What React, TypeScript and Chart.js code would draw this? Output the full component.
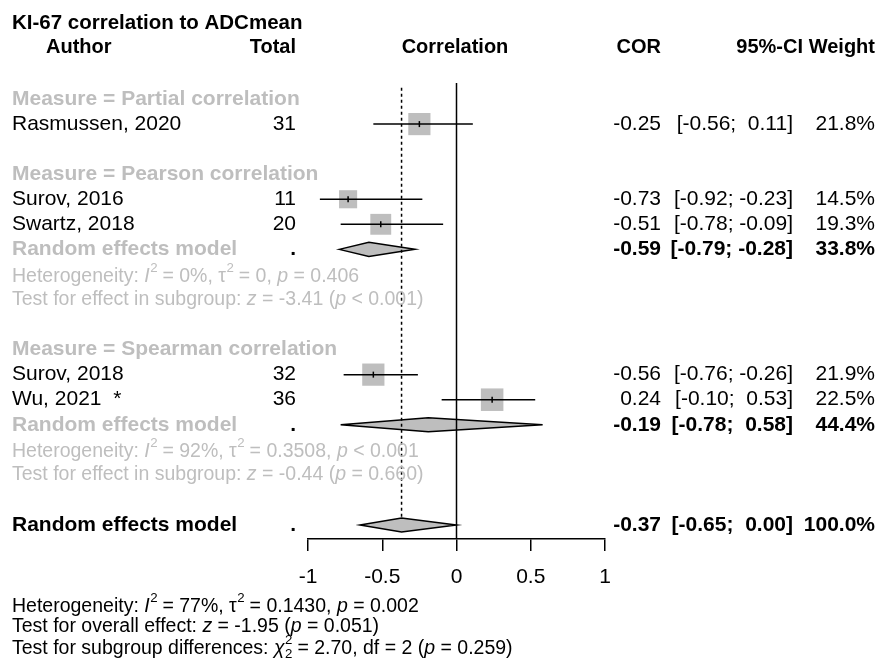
import React, { useEffect, useRef } from "react";
import { Chart, registerables } from "chart.js";

Chart.register(...registerables);

const FONT = "'Liberation Sans', Arial, Helvetica, sans-serif";
const BLACK = "#000000";
const GRAY = "#BEBEBE";

// ---------------- data ----------------
const chartTitle = "KI-67 correlation to ADCmean";
const columnHeaders = ["Author", "Total", "Correlation", "COR", "95%-CI", "Weight"];

const groupLabels = [
  "Measure = Partial correlation",
  "Measure = Pearson correlation",
  "Measure = Spearman correlation",
];

const studyAuthors = ["Rasmussen, 2020", "Surov, 2016", "Swartz, 2018", "Surov, 2018", "Wu, 2021  *"];
const studyGroups = [0, 1, 1, 2, 2];
const studyTotals = [31, 11, 20, 32, 36];
const studyCor = [-0.25, -0.73, -0.51, -0.56, 0.24];
const studyLower = [-0.56, -0.92, -0.78, -0.76, -0.1];
const studyUpper = [0.11, -0.23, -0.09, -0.26, 0.53];
const studyWeights = [21.8, 14.5, 19.3, 21.9, 22.5];

const pooledLabel = "Random effects model";
const subgroupGroups = [1, 2];
const subgroupCor = [-0.59, -0.19];
const subgroupLower = [-0.79, -0.78];
const subgroupUpper = [-0.28, 0.58];
const subgroupWeights = [33.8, 44.4];

const overallCor = [-0.37];
const overallLower = [-0.65];
const overallUpper = [0.0];
const overallWeights = [100.0];

const nullEffect = 0;
const xTickValues = [-1, -0.5, 0, 0.5, 1];

type Seg = [string, string?];

const subgroupHeterogeneity: Seg[][] = [
  [["Heterogeneity: "], ["I", "i"], ["2", "sup"], [" = 0%, "], ["τ"], ["2", "sup"], [" = 0, "], ["p", "i"], [" = 0.406"]],
  [["Heterogeneity: "], ["I", "i"], ["2", "sup"], [" = 92%, "], ["τ"], ["2", "sup"], [" = 0.3508, "], ["p", "i"], [" < 0.001"]],
];
const subgroupTests: Seg[][] = [
  [["Test for effect in subgroup: "], ["z", "i"], [" = -3.41 ("], ["p", "i"], [" < 0.001)"]],
  [["Test for effect in subgroup: "], ["z", "i"], [" = -0.44 ("], ["p", "i"], [" = 0.660)"]],
];
const overallNotes: Seg[][] = [
  [["Heterogeneity: "], ["I", "i"], ["2", "sup"], [" = 77%, "], ["τ"], ["2", "sup"], [" = 0.1430, "], ["p", "i"], [" = 0.002"]],
  [["Test for overall effect: "], ["z", "i"], [" = -1.95 ("], ["p", "i"], [" = 0.051)"]],
  [["Test for subgroup differences: "], ["χ", "i"], ["2", "supsub"], [" = 2.70, df = 2 ("], ["p", "i"], [" = 0.259)"]],
];

// ---------------- layout of rows ----------------
type RowItem = { kind: string; i: number; r: number };
function buildRows(): RowItem[] {
  const items: RowItem[] = [];
  let r = 0;
  groupLabels.forEach((_, g) => {
    items.push({ kind: "group", i: g, r: r++ });
    studyGroups.forEach((sg, s) => {
      if (sg === g) items.push({ kind: "study", i: s, r: r++ });
    });
    const p = subgroupGroups.indexOf(g);
    if (p >= 0) {
      items.push({ kind: "pooled", i: p, r: r++ });
      items.push({ kind: "het", i: p, r: r++ });
      items.push({ kind: "test", i: p, r: r++ });
    }
    r++;
  });
  items.push({ kind: "overall", i: 0, r });
  return items;
}
const ROWS = buildRows();
const rowOf = (kind: string, i: number) => ROWS.find((x) => x.kind === kind && x.i === i)!.r;
const LAST_ROW = rowOf("overall", 0);
const Y_MIN = -0.64;
const Y_MAX = LAST_ROW + 0.56;
const DIAMOND_HALF = 0.28;

const squareSide = (w: number) => 4.75 * Math.sqrt(w);
const fmt = (v: number) => v.toFixed(2);
const fmtCI = (lo: number, hi: number) =>
  "[" + (lo < 0 ? fmt(lo) : " " + fmt(lo)) + "; " + (hi < 0 ? fmt(hi) : " " + fmt(hi)) + "]";
const fmtW = (w: number) => w.toFixed(1) + "%";

const font = (size: number, bold = false, italic = false) =>
  `${italic ? "italic " : ""}${bold ? "bold " : ""}${size}px ${FONT}`;

function drawRich(ctx: CanvasRenderingContext2D, segs: Seg[], x: number, y: number, size: number, color: string) {
  let cx = x;
  ctx.fillStyle = color;
  ctx.textAlign = "left";
  for (const [t, st] of segs) {
    if (st === "sup" || st === "sub" || st === "supsub") {
      const s = size * 0.68;
      ctx.font = font(s);
      if (st === "sup" || st === "supsub") ctx.fillText(t, cx + 0.5, y - size * 0.42);
      if (st === "sub" || st === "supsub") ctx.fillText(t, cx + 0.5, y + size * 0.3);
      cx += ctx.measureText(t).width;
    } else {
      ctx.font = font(size, false, st === "i");
      ctx.fillText(t, cx, y);
      cx += ctx.measureText(t).width;
    }
  }
}

const X_LEFT = 12;
const X_AUTHOR_HDR = 46;
const X_TOTAL = 296;
const X_CORR_HDR = 455;
const X_COR = 661;
const X_CI = 793;
const X_CI_HDR = 803;
const X_W = 875;
const SZ = 21;
const SZ_B = 21;
const SZ_HDR = 20;
const SZ_SMALL = 19.5;

const textPlugin = {
  id: "forestText",
  afterDraw(chart: any) {
    const ctx: CanvasRenderingContext2D = chart.ctx;
    const ys = chart.scales.y;
    const Y = (r: number) => ys.getPixelForValue(r);
    ctx.save();
    ctx.textBaseline = "middle";
    const txt = (t: string, x: number, y: number, align: CanvasTextAlign, f: string, c = BLACK) => {
      ctx.font = f;
      ctx.fillStyle = c;
      ctx.textAlign = align;
      ctx.fillText(t, x, y);
    };
    // title & headers
    txt(chartTitle, X_LEFT, Y(-3.04), "left", font(SZ_HDR + 0.5, true));
    const hy = Y(-2.04);
    txt(columnHeaders[0], X_AUTHOR_HDR, hy, "left", font(SZ_HDR, true));
    txt(columnHeaders[1], X_TOTAL, hy, "right", font(SZ_HDR, true));
    txt(columnHeaders[2], X_CORR_HDR, hy, "center", font(SZ_HDR, true));
    txt(columnHeaders[3], X_COR, hy, "right", font(SZ_HDR, true));
    txt(columnHeaders[4], X_CI_HDR, hy, "right", font(SZ_HDR, true));
    txt(columnHeaders[5], X_W, hy, "right", font(SZ_HDR, true));

    for (const row of ROWS) {
      const y = Y(row.r);
      if (row.kind === "group") {
        txt(groupLabels[row.i], X_LEFT, y, "left", font(SZ_B, true), GRAY);
      } else if (row.kind === "study") {
        const s = row.i;
        txt(studyAuthors[s], X_LEFT, y, "left", font(SZ));
        txt(String(studyTotals[s]), X_TOTAL, y, "right", font(SZ));
        txt(fmt(studyCor[s]), X_COR, y, "right", font(SZ));
        txt(fmtCI(studyLower[s], studyUpper[s]), X_CI, y, "right", font(SZ));
        txt(fmtW(studyWeights[s]), X_W, y, "right", font(SZ));
      } else if (row.kind === "pooled" || row.kind === "overall") {
        const sub = row.kind === "pooled";
        const p = row.i;
        const c = sub ? subgroupCor[p] : overallCor[p];
        const lo = sub ? subgroupLower[p] : overallLower[p];
        const hi = sub ? subgroupUpper[p] : overallUpper[p];
        const w = sub ? subgroupWeights[p] : overallWeights[p];
        txt(pooledLabel, X_LEFT, y, "left", font(SZ_B, true), sub ? GRAY : BLACK);
        txt(".", X_TOTAL, y, "right", font(SZ_B, true));
        txt(fmt(c), X_COR, y, "right", font(SZ_B, true));
        txt(fmtCI(lo, hi), X_CI, y, "right", font(SZ_B, true));
        txt(fmtW(w), X_W, y, "right", font(SZ_B, true));
      } else if (row.kind === "het") {
        drawRich(ctx, subgroupHeterogeneity[row.i], X_LEFT, Y(row.r + 0.08), SZ_SMALL, GRAY);
      } else if (row.kind === "test") {
        drawRich(ctx, subgroupTests[row.i], X_LEFT, y, SZ_SMALL, GRAY);
      }
    }
    const noteRows = [LAST_ROW + 3.25, LAST_ROW + 4.05, LAST_ROW + 4.92];
    overallNotes.forEach((segs, k) => drawRich(ctx, segs, X_LEFT, Y(noteRows[k]), SZ_SMALL, BLACK));
    ctx.restore();
  },
};

const diamondPlugin = {
  id: "diamonds",
  beforeDatasetsDraw(chart: any) {
    const ctx: CanvasRenderingContext2D = chart.ctx;
    const { x, y } = chart.scales;
    const items: { r: number; c: number; lo: number; hi: number }[] = [];
    subgroupCor.forEach((c, p) =>
      items.push({ r: rowOf("pooled", p), c, lo: subgroupLower[p], hi: subgroupUpper[p] })
    );
    overallCor.forEach((c, p) => items.push({ r: rowOf("overall", p), c, lo: overallLower[p], hi: overallUpper[p] }));
    ctx.save();
    for (const d of items) {
      const yc = y.getPixelForValue(d.r);
      const yt = y.getPixelForValue(d.r - DIAMOND_HALF);
      const yb = y.getPixelForValue(d.r + DIAMOND_HALF);
      ctx.beginPath();
      ctx.moveTo(x.getPixelForValue(d.lo), yc);
      ctx.lineTo(x.getPixelForValue(d.c), yt);
      ctx.lineTo(x.getPixelForValue(d.hi), yc);
      ctx.lineTo(x.getPixelForValue(d.c), yb);
      ctx.closePath();
      ctx.fillStyle = GRAY;
      ctx.fill();
      ctx.lineWidth = 1.5;
      ctx.strokeStyle = BLACK;
      ctx.stroke();
    }
    ctx.restore();
  },
};

export default function App() {
  const ref = useRef<HTMLCanvasElement>(null);
  useEffect(() => {
    const canvas = ref.current;
    if (!canvas) return;
    const studyRows = studyAuthors.map((_, s) => rowOf("study", s));
    const datasets: any[] = [];
    // squares
    datasets.push({
      data: studyCor.map((c, s) => ({ x: c, y: studyRows[s] })),
      pointStyle: "rect",
      pointRadius: (ctx: any) => squareSide(studyWeights[ctx.dataIndex]) / Math.SQRT2,
      pointHoverRadius: (ctx: any) => squareSide(studyWeights[ctx.dataIndex]) / Math.SQRT2,
      pointBackgroundColor: GRAY,
      backgroundColor: GRAY,
      pointBorderWidth: 0,
      borderWidth: 0,
      showLine: false,
      order: 3,
    });
    // confidence intervals
    studyCor.forEach((_, s) => {
      datasets.push({
        data: [
          { x: studyLower[s], y: studyRows[s] },
          { x: studyUpper[s], y: studyRows[s] },
        ],
        showLine: true,
        pointRadius: 0,
        pointHoverRadius: 0,
        borderColor: BLACK,
        borderWidth: 1.5,
        order: 1,
      });
    });
    // estimate ticks
    datasets.push({
      data: studyCor.map((c, s) => ({ x: c, y: studyRows[s] })),
      pointStyle: "line",
      pointRotation: 90,
      pointRadius: 3,
      pointHoverRadius: 3,
      pointBorderColor: BLACK,
      borderColor: BLACK,
      pointBorderWidth: 1.5,
      showLine: false,
      order: 0,
    });
    // null-effect line
    datasets.push({
      data: [
        { x: nullEffect, y: Y_MIN },
        { x: nullEffect, y: Y_MAX },
      ],
      showLine: true,
      pointRadius: 0,
      borderColor: BLACK,
      borderWidth: 1.5,
      order: 2,
    });
    // overall estimate dotted line
    datasets.push({
      data: [
        { x: overallCor[0], y: -0.45 },
        { x: overallCor[0], y: LAST_ROW - DIAMOND_HALF },
      ],
      showLine: true,
      pointRadius: 0,
      borderColor: BLACK,
      borderWidth: 1.5,
      borderDash: [3, 3],
      order: 2,
    });

    const chart = new Chart(canvas, {
      type: "scatter",
      data: { datasets },
      options: {
        animation: false,
        responsive: false,
        devicePixelRatio: 1,
        events: [],
        layout: { padding: { left: 308, right: 271, top: 83, bottom: 57.8 } },
        plugins: { legend: { display: false }, tooltip: { enabled: false }, title: { display: false } },
        scales: {
          x: {
            type: "linear",
            min: -1,
            max: 1,
            afterBuildTicks: (ax: any) => {
              ax.ticks = xTickValues.map((v) => ({ value: v }));
            },
            ticks: {
              color: BLACK,
              font: { family: FONT, size: 21 },
              padding: 14,
              maxRotation: 0,
              autoSkip: false,
              callback: (v: any) => String(v),
            },
            grid: { drawOnChartArea: false, drawTicks: true, tickLength: 12, color: BLACK, lineWidth: 1.5 },
            border: { display: true, color: BLACK, width: 1.5 },
          },
          y: { type: "linear", reverse: true, min: Y_MIN, max: Y_MAX, display: false },
        },
      } as any,
      plugins: [diamondPlugin, textPlugin],
    } as any);
    return () => chart.destroy();
  }, []);
  return (
    <div style={{ position: "absolute", left: 0, top: 0, width: 876, height: 662, background: "#ffffff" }}>
      <canvas ref={ref} width={876} height={662} style={{ display: "block", width: 876, height: 662 }} />
    </div>
  );
}
